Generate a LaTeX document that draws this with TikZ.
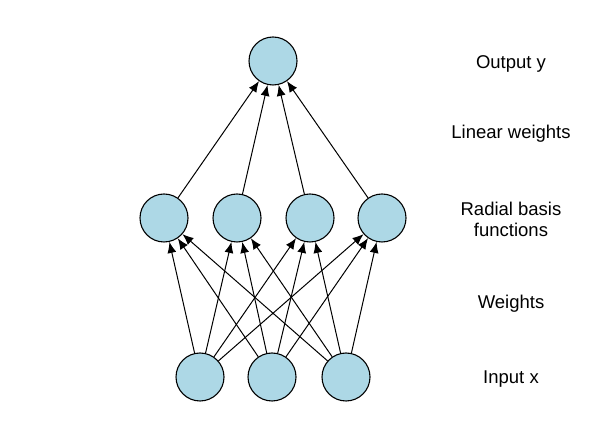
\documentclass[tikz,border=0pt]{standalone}
\usepackage{fontspec}
\setmainfont{Liberation Sans}
\usetikzlibrary{arrows.meta}
\tikzset{
    unit/.style={circle,draw,fill={rgb,255:red,173;green,216;blue,230},minimum size=48pt,inner sep=0pt,line width=1.1pt},
    lbl/.style={align=center,font=\fontsize{18.5}{21}\selectfont},
    edge/.style={-{Latex[length=11pt,width=9pt]},line width=1pt}
}
\begin{document}
\begin{tikzpicture}[x=1pt,y=1pt]
        \useasboundingbox(0,0)rectangle(615,422);
        \node[unit](1)at(273,361){};
        \node[unit](2)at(164,204){};
        \node[unit](3)at(237,204){};
        \node[unit](4)at(310,204){};
        \node[unit](5)at(382,204){};
        \node[unit](6)at(200,45){};
        \node[unit](7)at(272,45){};
        \node[unit](8)at(346,45){};
        \node[lbl](9)at(511,358){Output y};
        \node[lbl](10)at(511,288){Linear weights};
        \node[lbl](11)at(511,203){Radial basis\\functions};
        \node[lbl](12)at(511,118){Weights};
        \node[lbl](13)at(511,43){Input x};
        \draw[edge](2)--(1);
        \draw[edge](3)--(1);
        \draw[edge](4)--(1);
        \draw[edge](5)--(1);
        \draw[edge](6)--(2);
        \draw[edge](7)--(2);
        \draw[edge](8)--(2);
        \draw[edge](6)--(3);
        \draw[edge](7)--(3);
        \draw[edge](8)--(3);
        \draw[edge](6)--(4);
        \draw[edge](7)--(4);
        \draw[edge](8)--(4);
        \draw[edge](6)--(5);
        \draw[edge](7)--(5);
        \draw[edge](8)--(5);
    \end{tikzpicture}
\end{document}
